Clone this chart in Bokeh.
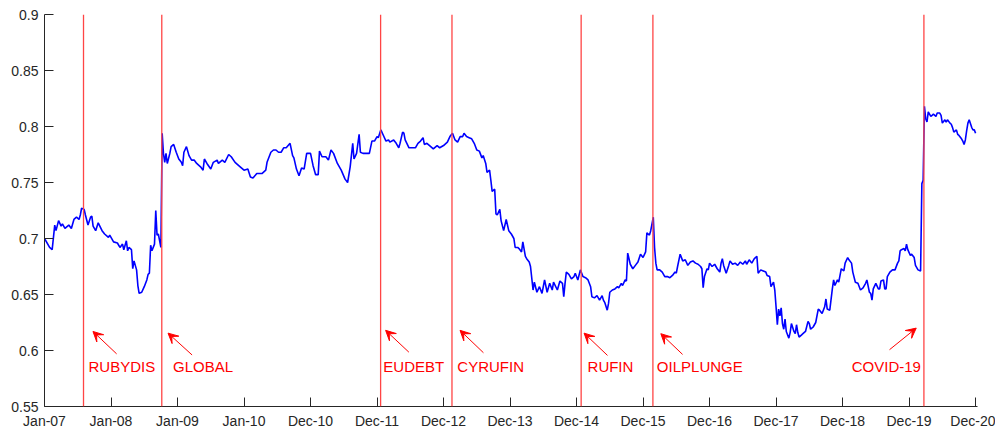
from bokeh.plotting import figure
from bokeh.models import (ColumnDataSource, FixedTicker, Range1d, Span, Arrow, VeeHead)
from bokeh.core.properties import value
from bokeh.embed import file_html
from bokeh.resources import INLINE

# ---- data (x = weekly observation index from Jan-2007) ----
weeks = [0, 4, 6, 8, 9, 11, 13, 14, 16, 19, 21, 23, 25, 27, 28, 29, 31, 32, 34, 36, 37, 38, 40, 42, 45, 47, 50, 51,
         54, 57, 59, 61, 62, 64, 65, 66, 68, 69, 70, 72, 73, 74, 76, 78, 80, 81, 82, 83, 84, 86, 87, 88, 89, 91, 92,
         93, 94, 95, 96, 98, 99, 101, 103, 105, 107, 108, 109, 111, 113, 115, 117, 119, 122, 124, 125, 127, 130, 132,
         135, 136, 139, 141, 144, 146, 149, 153, 156, 159, 161, 163, 166, 170, 173, 174, 177, 179, 181, 183, 185, 187,
         189, 192, 194, 195, 197, 199, 201, 203, 205, 208, 210, 212, 214, 215, 217, 220, 222, 224, 226, 229, 232, 235,
         237, 239, 241, 242, 244, 246, 247, 249, 251, 254, 256, 258, 260, 261, 263, 265, 267, 269, 270, 273, 275, 277,
         278, 280, 281, 282, 285, 290, 292, 294, 296, 297, 299, 302, 304, 307, 309, 312, 315, 317, 319, 321, 323, 325,
         327, 328, 330, 332, 334, 336, 338, 340, 342, 343, 345, 346, 348, 349, 350, 352, 353, 354, 356, 357, 359, 361,
         363, 365, 367, 368, 370, 371, 373, 374, 376, 377, 379, 380, 382, 383, 385, 387, 389, 391, 393, 395, 397, 398,
         401, 403, 405, 406, 407, 408, 410, 412, 414, 415, 417, 419, 421, 423, 425, 427, 428, 430, 432, 434, 436, 437,
         438, 440, 441, 442, 444, 446, 448, 449, 451, 452, 454, 455, 456, 458, 460, 462, 464, 466, 468, 470, 471, 473,
         474, 476, 477, 478, 479, 481, 483, 485, 487, 489, 491, 493, 494, 495, 497, 499, 501, 503, 505, 507, 509, 511,
         513, 514, 515, 516, 518, 519, 520, 522, 524, 526, 528, 529, 530, 531, 533, 535, 536, 538, 540, 542, 544, 546,
         548, 549, 551, 553, 555, 557, 558, 560, 562, 564, 565, 567, 568, 570, 571, 572, 573, 574, 575, 576, 577, 578,
         579, 580, 582, 583, 584, 586, 587, 588, 589, 590, 592, 593, 595, 597, 598, 599, 601, 603, 605, 606, 608, 610,
         611, 612, 614, 616, 617, 618, 620, 621, 623, 625, 626, 628, 629, 631, 632, 634, 636, 638, 640, 642, 643, 645,
         646, 647, 648, 650, 652, 653, 654, 656, 657, 658, 659, 661, 663, 665, 667, 668, 669, 670, 672, 673, 674, 675,
         677, 678, 680, 681, 683, 685, 686, 687, 688, 689, 690, 691, 693, 694, 695, 697, 698, 700, 701, 702, 704, 705,
         706, 708, 709, 710, 711, 713, 714, 715, 717, 718, 719, 720, 721, 722, 723, 725, 726, 727, 728]

values = [0.700, 0.692, 0.690, 0.712, 0.707, 0.716, 0.711, 0.713, 0.709, 0.712, 0.709, 0.717, 0.719, 0.717, 0.721,
          0.727, 0.726, 0.721, 0.712, 0.719, 0.720, 0.711, 0.707, 0.714, 0.707, 0.704, 0.701, 0.703, 0.697, 0.696,
          0.692, 0.695, 0.690, 0.698, 0.689, 0.692, 0.690, 0.673, 0.680, 0.672, 0.658, 0.651, 0.652, 0.657, 0.663,
          0.668, 0.669, 0.694, 0.689, 0.695, 0.725, 0.703, 0.704, 0.692, 0.794,
          0.776, 0.768, 0.776, 0.767, 0.776, 0.782, 0.784, 0.777, 0.771, 0.768, 0.765, 0.777, 0.782, 0.774, 0.770,
          0.770, 0.767, 0.764, 0.761, 0.771, 0.767, 0.762, 0.768, 0.770, 0.767, 0.770, 0.768, 0.775, 0.773, 0.768,
          0.764, 0.761, 0.762, 0.755, 0.754, 0.758, 0.758, 0.761, 0.768, 0.777, 0.779, 0.779, 0.777, 0.777, 0.781,
          0.781, 0.785, 0.774, 0.772, 0.762, 0.756, 0.763, 0.762, 0.776, 0.776, 0.765, 0.757, 0.757, 0.778, 0.773,
          0.773, 0.770, 0.779, 0.776, 0.767, 0.761, 0.753, 0.750, 0.764, 0.785, 0.771, 0.776, 0.793, 0.777, 0.776,
          0.776, 0.776, 0.787, 0.787, 0.791, 0.790, 0.797, 0.792, 0.787, 0.788, 0.786, 0.788, 0.785, 0.781, 0.785,
          0.795, 0.794, 0.788, 0.781, 0.781, 0.785, 0.787, 0.790, 0.784, 0.785, 0.782, 0.780, 0.783, 0.781, 0.783,
          0.786, 0.791, 0.794, 0.788, 0.786, 0.791, 0.791, 0.794, 0.791, 0.790, 0.789, 0.785, 0.779, 0.778, 0.772,
          0.774, 0.767, 0.759, 0.761, 0.752, 0.742, 0.744, 0.722, 0.721, 0.726, 0.716, 0.707, 0.717, 0.707, 0.704,
          0.700, 0.692, 0.692, 0.691, 0.688, 0.697, 0.684, 0.682, 0.679, 0.675, 0.654, 0.661, 0.652, 0.657, 0.651,
          0.663, 0.652, 0.660, 0.654, 0.661, 0.654, 0.662, 0.660, 0.648, 0.660, 0.670, 0.668, 0.664, 0.666, 0.669,
          0.663, 0.672, 0.666, 0.665, 0.663, 0.657, 0.648, 0.647, 0.649, 0.645, 0.649, 0.645, 0.643, 0.636, 0.642,
          0.652, 0.654, 0.655, 0.657, 0.656, 0.660, 0.658, 0.663, 0.662, 0.687, 0.677, 0.673, 0.676, 0.679, 0.686,
          0.683, 0.688, 0.705, 0.703, 0.707, 0.719, 0.692, 0.678, 0.672, 0.672, 0.670, 0.666, 0.666, 0.665, 0.667,
          0.670, 0.669, 0.675, 0.686, 0.680, 0.681, 0.676, 0.679, 0.680, 0.678, 0.677, 0.675, 0.673, 0.656, 0.666,
          0.673, 0.672, 0.678, 0.675, 0.677, 0.673, 0.670, 0.678, 0.682, 0.676, 0.669, 0.676, 0.680, 0.677, 0.678,
          0.676, 0.679, 0.677, 0.680, 0.677, 0.681, 0.678, 0.682, 0.684, 0.669, 0.672, 0.671, 0.670, 0.667, 0.666,
          0.657, 0.661, 0.654, 0.639, 0.623, 0.637, 0.631, 0.638, 0.624, 0.619, 0.628, 0.617, 0.611, 0.616, 0.624,
          0.617, 0.615, 0.623, 0.616, 0.612, 0.614, 0.615, 0.617, 0.626, 0.624, 0.619, 0.621, 0.625, 0.637, 0.636,
          0.633, 0.639, 0.646, 0.637, 0.636, 0.655, 0.663, 0.658, 0.663, 0.661, 0.673, 0.671, 0.678, 0.683, 0.681,
          0.678, 0.670, 0.661, 0.660, 0.654, 0.656, 0.660, 0.663, 0.652, 0.651, 0.645, 0.655, 0.660, 0.655, 0.655,
          0.662, 0.663, 0.655, 0.655, 0.666, 0.670, 0.672, 0.672, 0.678, 0.680, 0.689, 0.690, 0.691, 0.689, 0.695,
          0.690, 0.685, 0.686, 0.683, 0.676, 0.672, 0.671, 0.749, 0.752, 0.818, 0.807, 0.804, 0.813, 0.809, 0.810,
          0.811, 0.809, 0.812, 0.812, 0.810, 0.803, 0.806, 0.804, 0.806, 0.803, 0.802, 0.799, 0.795, 0.797, 0.793,
          0.792, 0.789, 0.787, 0.784, 0.788, 0.796, 0.803, 0.806, 0.799, 0.797, 0.797, 0.794]

x_ticks = [0, 52, 104, 156, 208, 260, 312, 364, 416, 468, 520, 572, 624, 676, 728]
x_tick_labels = ["Jan-07", "Jan-08", "Jan-09", "Jan-10", "Dec-10", "Dec-11", "Dec-12", "Dec-13",
                 "Dec-14", "Dec-15", "Dec-16", "Dec-17", "Dec-18", "Dec-19", "Dec-20"]
y_ticks = [0.55, 0.6, 0.65, 0.7, 0.75, 0.8, 0.85, 0.9]
y_tick_labels = ["0.55", "0.6", "0.65", "0.7", "0.75", "0.8", "0.85", "0.9"]

event_names = ["RUBYDIS", "GLOBAL", "EUDEBT", "CYRUFIN", "RUFIN", "OILPLUNGE", "COVID-19"]
event_weeks = [30.5, 91.7, 262.8, 318.6, 419.6, 475.7, 687.6]

# annotation layout (label anchors and arrows, in axis units)
label_x = [34.4, 100.5, 264.9, 322.8, 424.6, 478.8, 631.2]
label_y = [0.586] * 7
arrow_x_tail = [56.4, 115.4, 284.9, 343.2, 440.2, 498.9, 660.7]
arrow_y_tail = [0.597, 0.596, 0.5985, 0.598, 0.5956, 0.5965, 0.6007]
arrow_x_head = [37.9, 96.6, 266.7, 324.9, 421.9, 481.9, 681.6]
arrow_y_head = [0.617, 0.6155, 0.618, 0.618, 0.6155, 0.615, 0.620]

FONT = "Liberation Sans"
AX = "#262626"

p = figure(width=995, height=431, output_backend="svg", toolbar_location=None,
           x_range=Range1d(0, 729.5), y_range=Range1d(0.55, 0.9),
           min_border_left=44, min_border_right=18, min_border_top=14, min_border_bottom=0)
p.outline_line_color = None
p.grid.visible = False
p.background_fill_color = "white"
p.border_fill_color = "white"

for ax, ticks, labels in ((p.xaxis[0], x_ticks, x_tick_labels), (p.yaxis[0], y_ticks, y_tick_labels)):
    ax.ticker = FixedTicker(ticks=ticks)
    ax.major_label_overrides = dict(zip(ticks, labels))
    ax.major_tick_in = 9
    ax.major_tick_out = 0
    ax.minor_tick_line_color = None
    ax.axis_line_color = AX
    ax.major_tick_line_color = AX
    ax.major_label_text_color = AX
    ax.major_label_text_font = FONT
    ax.major_label_text_font_size = "14px"
    ax.axis_line_width = 1
p.xaxis.major_label_standoff = 6
p.yaxis.major_label_standoff = 6

# event lines
for w in event_weeks:
    p.add_layout(Span(location=w, dimension="height", line_color="#ff4545", line_width=1.3))

# series
p.line(weeks, values, line_color="#0000ff", line_width=1.6)

# labels
lab_src = ColumnDataSource(dict(x=label_x, y=label_y, t=event_names))
p.text(x="x", y="y", text="t", source=lab_src, text_color="#ff0000",
       text_font=value(FONT), text_font_size="15px", text_baseline="alphabetic", text_align="left")

arr_src = ColumnDataSource(dict(xs=arrow_x_tail, ys=arrow_y_tail, xe=arrow_x_head, ye=arrow_y_head))
p.add_layout(Arrow(x_start="xs", y_start="ys", x_end="xe", y_end="ye", source=arr_src,
                   line_color="#ff0000", line_width=1,
                   end=VeeHead(size=10, fill_color="#ff0000", line_color="#ff0000", line_width=1)))

open("out.html", "w").write(file_html(p, INLINE))
